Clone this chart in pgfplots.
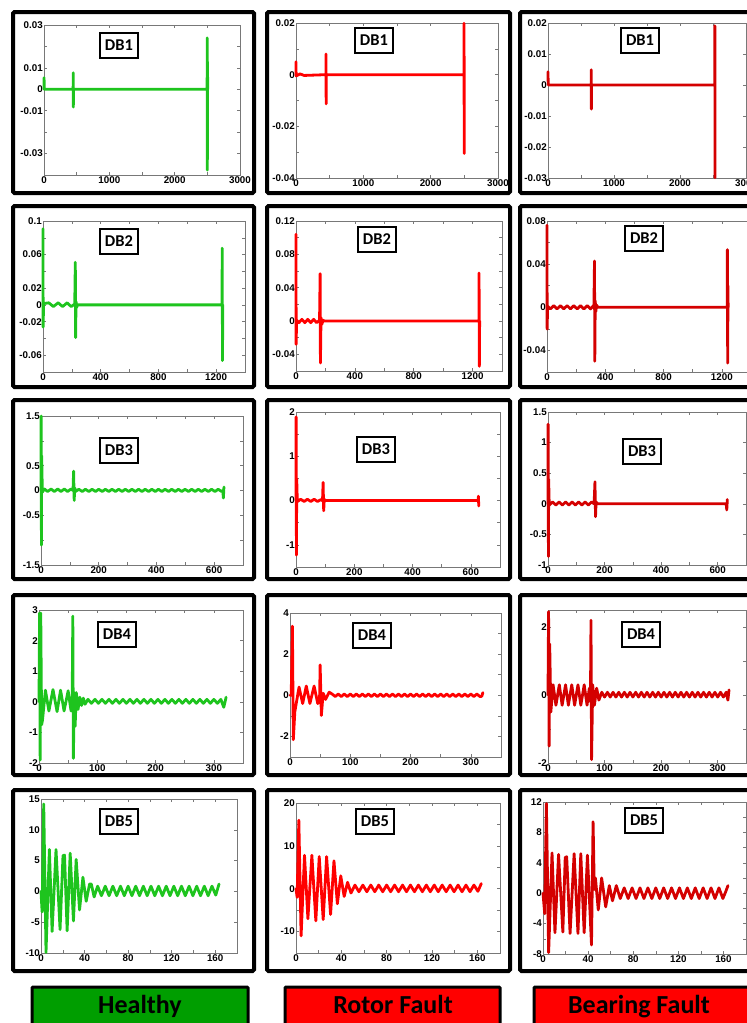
\documentclass[border=0pt]{standalone}
\usepackage{pgfplots}
\pgfplotsset{compat=1.18}
\usepackage{fontspec}
\setmainfont{Liberation Sans}
\newfontfamily\carl{Carlito}
\definecolor{hg}{RGB}{30,196,30}
\definecolor{rr}{RGB}{255,0,0}
\definecolor{br}{RGB}{212,0,0}
\definecolor{boxg}{RGB}{0,158,0}
\definecolor{axg}{RGB}{120,120,120}
\pgfplotsset{
  panel/.style={scale only axis, anchor=south west, clip=false, scaled ticks=false,
    axis line style={axg, line width=0.6pt},
    tick style={axg, line width=0.5pt}, major tick length=3pt, tick align=inside,
    ticklabel style={font=\bfseries\fontsize{9.8}{10}\selectfont, text=black},
    yticklabel style={inner sep=1pt}, xticklabel style={inner sep=1.5pt},
    every axis plot/.append style={line width=2.8pt, line join=round, line cap=round}},
  xa/.style={xmin=0,xmax=3000,xtick={0,500,1000,1500,2000,2500,3000},xticklabels={0,,1000,,2000,,3000}},
  xb/.style={xmin=0,xmax=1400,xtick={0,200,400,600,800,1000,1200,1400},xticklabels={0,,400,,800,,1200,}},
  xc/.style={xmin=0,xmax=700,xtick={0,100,200,300,400,500,600,700},xticklabels={0,,200,,400,,600,}},
  xd/.style={xmin=0,xmax=350,xtick={0,50,100,150,200,250,300,350},xticklabels={0,,100,,200,,300,}},
  xe/.style={xmin=0,xmax=180,xtick={0,20,40,60,80,100,120,140,160,180},xticklabels={0,,40,,80,,120,,160,}},
}
\newcommand{\fr}[4]{\draw[line width=4pt, rounded corners=1.5pt] (#1pt,-#2pt) rectangle (#3pt,-#4pt);}
\newcommand{\dbl}[3]{\node[draw, line width=2pt, fill=white, minimum width=38pt, minimum height=25pt, inner sep=0pt, font=\carl\bfseries\fontsize{16.5}{17}\selectfont] at (#1pt,-#2pt) {#3};}
\begin{document}
\begin{tikzpicture}
\begin{scope}
\clip (0pt,0pt) rectangle (747pt,-1023pt);
% frames
\fr{13}{12}{254}{193}\fr{267}{12}{510}{193}\fr{520}{12}{765}{193}
\fr{13}{206}{254}{387}\fr{267}{206}{510}{387}\fr{520}{206}{765}{387}
\fr{13}{400}{254}{579}\fr{267}{400}{510}{579}\fr{520}{400}{765}{579}
\fr{13}{595}{254}{775}\fr{267}{595}{510}{775}\fr{520}{595}{765}{775}
\fr{13}{790}{254}{971}\fr{267}{790}{510}{971}\fr{520}{790}{765}{971}
% ---------- row 1 : DB1
\begin{axis}[panel, at={(44pt,-175pt)}, width=196pt, height=150pt, xa,
  ymin=-0.04, ymax=0.03, ytick={-0.04,-0.03,-0.02,-0.01,0,0.01,0.02,0.03}, yticklabels={,-0.03,,-0.01,0,0.01,,0.03}]
\addplot[hg] coordinates {(0,0)(1,0.0054)(4,0)(446,0)(447,0.0077)(449,-0.0083)(451,0)(2497,0)(2498,0.024)(2500,-0.0377)(2503,0.0128)(2505,0)};
\end{axis}
\begin{axis}[panel, at={(296pt,-178pt)}, width=202pt, height=155pt, xa,
  ymin=-0.04, ymax=0.02, ytick={-0.04,-0.03,-0.02,-0.01,0,0.01,0.02}, yticklabels={-0.04,,-0.02,,0,,0.02}]
\addplot[rr] coordinates {(0,0.005)(2,-0.0005)(60,0.0003)(120,-0.0003)(445,0)(446,0.008)(448,-0.0113)(450,0)(2495,0)(2496,0.0199)(2498,-0.0305)(2500,0)};
\end{axis}
\begin{axis}[panel, at={(548pt,-178pt)}, width=198pt, height=155pt, xa,
  ymin=-0.03, ymax=0.02, ytick={-0.03,-0.02,-0.01,0,0.01,0.02}, yticklabels={-0.03,-0.02,-0.01,0,0.01,0.02}]
\addplot[br] coordinates {(0,0.0043)(3,0)(654,0)(655,0.0049)(657,-0.0078)(659,0)(2527,0)(2528,0.0191)(2530,-0.0299)};
\end{axis}
% ---------- row 2 : DB2
\begin{axis}[panel, at={(43pt,-372pt)}, width=202pt, height=151pt, xb,
  ymin=-0.08, ymax=0.1, ytick={-0.08,-0.06,-0.04,-0.02,0,0.02,0.04,0.06,0.08,0.1}, yticklabels={,-0.06,,-0.02,0,0.02,,0.06,,0.1}]
\addplot[hg] coordinates {(0,0.0908)(1,-0.0264)(4,0.0015)(40,0.0025)(72,-0.002)(105,0.0025)(136,-0.002)(167,0.0025)(195,-0.002)(220,0.001)(224,0.0508)(226,-0.039)(229,0.004)(233,-0.003)(240,0)(1241,0)(1242,0.0676)(1244,-0.0664)(1246,0)};
\end{axis}
\begin{axis}[panel, at={(296pt,-371pt)}, width=206pt, height=150pt, xb,
  ymin=-0.06, ymax=0.12, ytick={-0.06,-0.04,-0.02,0,0.02,0.04,0.06,0.08,0.1,0.12}, yticklabels={,-0.04,,0,,0.04,,0.08,,0.12}]
\addplot[rr] coordinates {(0,0.104)(1,-0.028)(4,0.001)(20,-0.002)(40,0.002)(60,-0.002)(80,0.002)(100,-0.002)(120,0.002)(140,-0.002)(160,0.001)(164,0.0568)(166,-0.0504)(170,0.004)(175,-0.004)(185,0.001)(190,0)(1243,0)(1244,0.0576)(1246,-0.0544)(1248,0)};
\end{axis}
\begin{axis}[panel, at={(547pt,-372pt)}, width=204pt, height=151pt, xb,
  ymin=-0.06, ymax=0.08, ytick={-0.06,-0.04,-0.02,0,0.02,0.04,0.06,0.08}, yticklabels={,-0.04,,0,,0.04,,0.08}]
\addplot[br] coordinates {(0,0.076)(1,-0.0203)(4,0.001)(23,-0.0015)(46,0.0015)(69,-0.0015)(92,0.0015)(115,-0.0015)(138,0.0015)(161,-0.0015)(184,0.0015)(207,-0.0015)(230,0.0015)(253,-0.0015)(276,0.0015)(299,-0.0015)(322,0.002)(326,0.0428)(328,-0.050)(331,0.006)(335,-0.004)(340,0.002)(350,0)(1237,0)(1238,0.0535)(1240,-0.0517)(1242,0.02)(1243,0)};
\end{axis}
% ---------- row 3 : DB3
\begin{axis}[panel, at={(41pt,-565pt)}, width=202pt, height=149pt, xc,
  ymin=-1.5, ymax=1.5, ytick={-1.5,-1,-0.5,0,0.5,1,1.5}, yticklabels={-1.5,,-0.5,0,0.5,,1.5}]
\addplot[hg] coordinates {(0,0)(0.5,1.5)(1.5,-1.1)(2.5,0.7)(3.5,0.3)(5,-0.03)(12,0.03)(23,-0.02)(35,0.03)(46,-0.02)(58,0.03)(69,-0.02)(81,0.03)(92,-0.02)(104,0.03)(111,0)(113,0.39)(115,-0.2)(117,0.05)(120,-0.02)
(131,0.025)(143,-0.02)(154,0.025)(166,-0.02)(177,0.025)(189,-0.02)(200,0.025)(212,-0.02)(223,0.025)(235,-0.02)(246,0.025)(258,-0.02)(269,0.025)(281,-0.02)(292,0.025)(304,-0.02)(315,0.025)(327,-0.02)(338,0.025)(350,-0.02)(361,0.025)(373,-0.02)(384,0.025)(396,-0.02)(407,0.025)(419,-0.02)(430,0.025)(442,-0.02)(453,0.025)(465,-0.02)(476,0.025)(488,-0.02)(499,0.025)(511,-0.02)(522,0.025)(534,-0.02)(545,0.025)(557,-0.02)(568,0.025)(580,-0.02)(591,0.025)(603,-0.02)(614,0.025)(626,-0.02)(630,0)(632,-0.15)(634,0.07)};
\end{axis}
\begin{axis}[panel, at={(296pt,-567pt)}, width=204pt, height=155pt, xc,
  ymin=-1.5, ymax=2, ytick={-1.5,-1,-0.5,0,0.5,1,1.5,2}, yticklabels={,-1,,0,,1,,2}]
\addplot[rr] coordinates {(0,0)(0.5,1.89)(1.5,-1.23)(2.5,0.5)(3.5,0.2)(5,-0.02)(16,0.03)(28,-0.02)(39,0.03)(51,-0.02)(62,0.03)(74,-0.02)(85,0.02)(91,0)(93,0.41)(95,-0.23)(97,0.03)(100,0)(625,0)(626,0.1)(627,-0.12)};
\end{axis}
\begin{axis}[panel, at={(548pt,-565pt)}, width=198pt, height=153pt, xc,
  ymin=-1, ymax=1.5, ytick={-1,-0.5,0,0.5,1,1.5}, yticklabels={-1,-0.5,0,0.5,1,1.5}]
\addplot[br] coordinates {(0,0)(0.5,1.3)(1.5,-0.86)(2.5,0.4)(3.5,0.1)(5,-0.02)(16,0.03)(28,-0.02)(39,0.03)(51,-0.02)(62,0.03)(74,-0.02)(85,0.03)(97,-0.02)(108,0.03)(120,-0.02)(131,0.03)(143,-0.02)(154,0.03)(163,0)(166,0.36)(168,-0.21)(170,0.03)(175,0)(630,0)(632,-0.1)(634,0.07)};
\end{axis}
% ---------- row 4 : DB4
\begin{axis}[panel, at={(39pt,-763pt)}, width=204pt, height=153pt, xd,
  ymin=-2, ymax=3, ytick={-2,-1,0,1,2,3}, yticklabels={-2,-1,0,1,2,3}]
\addplot[hg] coordinates {(0,0)(1,2.9)(2,-1.9)(3,2.9)(4.5,-0.75)(6,-0.6)(11,0.38)(17,-0.3)(24,0.4)(31,-0.32)(37,0.38)(43,-0.3)(50,0.36)(55,-0.3)(57,0.2)(58,2.8)(59,-1.85)(60.5,0.3)(62,-0.8)(64,0.3)(67,-0.25)(70,0.15)(73,-0.12)(76,0.12)(79,-0.08)
(84,0.08)(90,-0.05)(96,0.08)(102,-0.05)(108,0.08)(114,-0.05)(120,0.08)(126,-0.05)(132,0.08)(138,-0.05)(144,0.08)(150,-0.05)(156,0.08)(162,-0.05)(168,0.08)(174,-0.05)(180,0.08)(186,-0.05)(192,0.08)(198,-0.05)(204,0.08)(210,-0.05)(216,0.08)(222,-0.05)(228,0.08)(234,-0.05)(240,0.08)(246,-0.05)(252,0.08)(258,-0.05)(264,0.08)(270,-0.05)(276,0.08)(282,-0.05)(288,0.08)(294,-0.05)(300,0.08)(306,-0.05)(312,0.08)(317,-0.18)(321,0.15)};
\end{axis}
\begin{axis}[panel, at={(290pt,-757pt)}, width=211pt, height=144pt, xd,
  ymin=-3, ymax=4, ytick={-3,-2,-1,0,1,2,3,4}, yticklabels={,-2,,0,,2,,4}]
\addplot[rr] coordinates {(0,0)(2,0)(4,3.36)(5.5,-2.16)(8,-0.8)(15,0.4)(21,-0.4)(27,0.45)(33,-0.4)(40,0.45)(46,-0.4)(49,-0.3)(50,1.48)(52,-0.98)(55,0.1)(59,-0.2)(65,0.15)
(70,0.06)(75,-0.06)(80,0.06)(85,-0.06)(90,0.06)(95,-0.06)(100,0.06)(105,-0.06)(110,0.06)(115,-0.06)(120,0.06)(125,-0.06)(130,0.06)(135,-0.06)(140,0.06)(145,-0.06)(150,0.06)(155,-0.06)(160,0.06)(165,-0.06)(170,0.06)(175,-0.06)(180,0.06)(185,-0.06)(190,0.06)(195,-0.06)(200,0.06)(205,-0.06)(210,0.06)(215,-0.06)(220,0.06)(225,-0.06)(230,0.06)(235,-0.06)(240,0.06)(245,-0.06)(250,0.06)(255,-0.06)(260,0.06)(265,-0.06)(270,0.06)(275,-0.06)(280,0.06)(285,-0.06)(290,0.06)(295,-0.06)(300,0.06)(305,-0.06)(310,0.06)(315,-0.06)(318,-0.05)(320,0.13)};
\end{axis}
\begin{axis}[panel, at={(548pt,-763pt)}, width=198pt, height=153pt, xd,
  ymin=-2, ymax=2.5, ytick={-2,-1,0,1,2}, yticklabels={-2,,0,,2}]
\addplot[br] coordinates {(0,0)(1,2.45)(2,-1.5)(3,1.5)(5,-0.5)(9,0.3)(14,-0.3)(20,0.3)(25,-0.3)(31,0.3)(36,-0.3)(42,0.3)(47,-0.3)(53,0.3)(58,-0.3)(64,0.3)(69,-0.3)(73,0.2)(75,-0.2)(76,2.2)(77,-1.9)(79,0.3)(82,-0.3)(86,0.2)(90,-0.15)
(95,0.08)(100,-0.06)(105,0.08)(110,-0.06)(115,0.08)(120,-0.06)(125,0.08)(130,-0.06)(135,0.08)(140,-0.06)(145,0.08)(150,-0.06)(155,0.08)(160,-0.06)(165,0.08)(170,-0.06)(175,0.08)(180,-0.06)(185,0.08)(190,-0.06)(195,0.08)(200,-0.06)(205,0.08)(210,-0.06)(215,0.08)(220,-0.06)(225,0.08)(230,-0.06)(235,0.08)(240,-0.06)(245,0.08)(250,-0.06)(255,0.08)(260,-0.06)(265,0.08)(270,-0.06)(275,0.08)(280,-0.06)(285,0.08)(290,-0.06)(295,0.08)(300,-0.06)(305,0.08)(310,-0.06)(315,0.08)(318,-0.15)(320,0.15)};
\end{axis}
% ---------- row 5 : DB5
\begin{axis}[panel, at={(41pt,-953pt)}, width=196pt, height=154pt, xe,
  ymin=-10, ymax=15, ytick={-10,-5,0,5,10,15}, yticklabels={-10,-5,0,5,10,15}]
\addplot[hg] coordinates {(0,0)(1,-3.3)(2.5,14.2)(4.6,-9.9)(7.7,6.8)(10.2,-6.5)(13.8,6.8)(17.5,-6.2)(20.2,5.8)(21.6,5.9)(24,-6.4)(26.8,6.2)(29.8,-4.8)(32.3,5.2)(35.4,-3)(38.5,2.3)(41.5,-1.6)(44.6,1.2)(46.2,1.2)(48.8,-0.9)
(52,0.85)(55.5,-0.7)(59,0.85)(62.5,-0.7)(66,0.85)(69.5,-0.7)(73,0.85)(76.5,-0.7)(80,0.85)(83.5,-0.7)(87,0.85)(90.5,-0.7)(94,0.85)(97.5,-0.7)(101,0.85)(104.5,-0.7)(108,0.85)(111.5,-0.7)(115,0.85)(118.5,-0.7)(122,0.85)(125.5,-0.7)(129,0.85)(132.5,-0.7)(136,0.85)(139.5,-0.7)(143,0.85)(146.5,-0.7)(150,0.85)(153.5,-0.7)(157,0.85)(160.5,-0.6)(163.5,1.2)};
\end{axis}
\begin{axis}[panel, at={(296pt,-953pt)}, width=204pt, height=150pt, xe,
  ymin=-15, ymax=20, ytick={-15,-10,-5,0,5,10,15,20}, yticklabels={,-10,,0,,10,,20}]
\addplot[rr] coordinates {(0,0)(1,-2)(2.5,16)(4.5,-11)(7.5,7.8)(10.5,-7)(14,7.8)(17.5,-7.5)(20.5,7.5)(24,-7.2)(27,7.5)(30.5,-6)(33.5,6.5)(36.5,-3.5)(39.5,3)(42.5,-1.8)(45.5,1.5)(48.5,-1)
(52,0.85)(55.5,-0.7)(59,0.85)(62.5,-0.7)(66,0.85)(69.5,-0.7)(73,0.85)(76.5,-0.7)(80,0.85)(83.5,-0.7)(87,0.85)(90.5,-0.7)(94,0.85)(97.5,-0.7)(101,0.85)(104.5,-0.7)(108,0.85)(111.5,-0.7)(115,0.85)(118.5,-0.7)(122,0.85)(125.5,-0.7)(129,0.85)(132.5,-0.7)(136,0.85)(139.5,-0.7)(143,0.85)(146.5,-0.7)(150,0.85)(153.5,-0.7)(157,0.85)(160.5,-0.6)(163.5,1.2)};
\end{axis}
\begin{axis}[panel, at={(543pt,-954pt)}, width=203pt, height=152pt, xe,
  ymin=-8, ymax=12, ytick={-8,-6,-4,-2,0,2,4,6,8,10,12}, yticklabels={-8,,-4,,0,,4,,8,,12}]
\addplot[br] coordinates {(0,0)(1.5,-2.7)(3,11.8)(5,-7.8)(8,5.3)(10.6,-5.2)(13.8,5.1)(17.6,-5.1)(19.7,4.7)(21,4.8)(24,-5.3)(27.6,5.2)(31,-5.3)(33.5,5.2)(36.5,-5.2)(39.4,5)(43,-6.8)(44.4,9.4)(45.5,0.5)(46.5,2)(49,-2.2)(52,2)(55.6,-1.8)(58.8,1.0)(61.6,-1)(65,1)
(68.5,-0.7)(72,0.7)(75.5,-0.7)(79,0.7)(82.5,-0.7)(86,0.7)(89.5,-0.7)(93,0.7)(96.5,-0.7)(100,0.7)(103.5,-0.7)(107,0.7)(110.5,-0.7)(114,0.7)(117.5,-0.7)(121,0.7)(124.5,-0.7)(128,0.7)(131.5,-0.7)(135,0.7)(138.5,-0.7)(142,0.7)(145.5,-0.7)(149,0.7)(152.5,-0.7)(156,0.7)(159.5,-0.7)(162,0.2)(164,1.0)};
\end{axis}
% DB labels
\dbl{119}{45}{DB1}\dbl{374}{40}{DB1}\dbl{640}{40}{DB1}
\dbl{119}{241}{DB2}\dbl{377}{239}{DB2}\dbl{644}{238}{DB2}
\dbl{119}{450}{DB3}\dbl{376}{449}{DB3}\dbl{642}{451}{DB3}
\dbl{117}{634}{DB4}\dbl{372}{635}{DB4}\dbl{641}{634}{DB4}
\dbl{119}{821}{DB5}\dbl{375}{821}{DB5}\dbl{644}{820}{DB5}
% bottom labels
\draw[line width=3pt, fill=boxg, rounded corners=1pt] (32pt,-987pt) rectangle (248pt,-1040pt);
\draw[line width=3pt, fill=rr, rounded corners=1pt] (285pt,-987pt) rectangle (500pt,-1040pt);
\draw[line width=3pt, fill=rr, rounded corners=1pt] (534pt,-987pt) rectangle (770pt,-1040pt);
\node[anchor=base, font=\carl\bfseries\fontsize{26}{28}\selectfont] at (140pt,-1013pt) {Healthy};
\node[anchor=base, font=\carl\bfseries\fontsize{26}{28}\selectfont] at (393pt,-1013pt) {Rotor Fault};
\node[anchor=base, font=\carl\bfseries\fontsize{26}{28}\selectfont] at (639pt,-1013pt) {Bearing Fault};
\end{scope}
\pgfresetboundingbox
\useasboundingbox (0pt,0pt) rectangle (747pt,-1023pt);
\end{tikzpicture}
\end{document}
